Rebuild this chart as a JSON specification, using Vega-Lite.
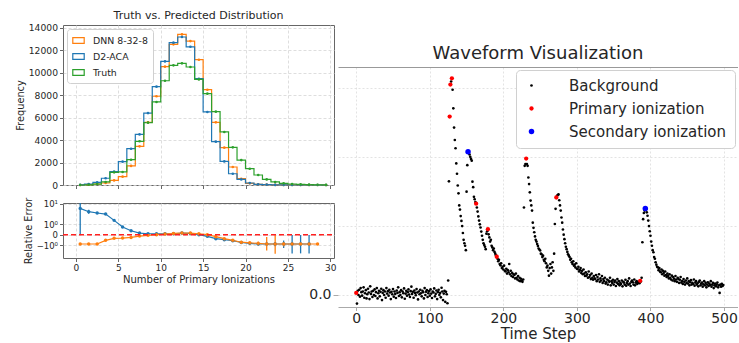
{
  "$schema": "https://vega.github.io/schema/vega-lite/v6.json",
  "padding": {"left": 14, "top": 9, "right": 0, "bottom": 0},
  "background": "white",
  "spacing": -100,
  "config": {
    "font": "DejaVu Sans",
    "view": {"stroke": null},
    "axis": {"labelFont": "DejaVu Sans", "titleFont": "DejaVu Sans", "titleFontWeight": "normal", "labelColor": "#262626", "titleColor": "#262626", "domainColor": "#666", "tickColor": "#666", "gridColor": "#d6d6d6", "gridDash": [3, 2], "gridWidth": 0.8, "labelOverlap": false},
    "legend": {"labelFont": "DejaVu Sans", "labelColor": "#262626"},
    "title": {"font": "DejaVu Sans", "fontWeight": "normal", "color": "#262626"}
  },
  "resolve": {"scale": {"color": "independent", "size": "independent"}, "legend": {"color": "independent", "size": "independent"}},
  "datasets": {
    "hist": [
      {"s":"DNN 8-32-8","c":0.5,"n":0},{"s":"DNN 8-32-8","c":1.5,"n":30},{"s":"DNN 8-32-8","c":2.5,"n":90},{"s":"DNN 8-32-8","c":3.5,"n":180},{"s":"DNN 8-32-8","c":4.5,"n":410},{"s":"DNN 8-32-8","c":5.5,"n":740},{"s":"DNN 8-32-8","c":6.5,"n":1700},{"s":"DNN 8-32-8","c":7.5,"n":3440},{"s":"DNN 8-32-8","c":8.5,"n":5580},{"s":"DNN 8-32-8","c":9.5,"n":7900},{"s":"DNN 8-32-8","c":10.5,"n":10530},{"s":"DNN 8-32-8","c":11.5,"n":12520},{"s":"DNN 8-32-8","c":12.5,"n":13400},{"s":"DNN 8-32-8","c":13.5,"n":12810},{"s":"DNN 8-32-8","c":14.5,"n":11150},{"s":"DNN 8-32-8","c":15.5,"n":8480},{"s":"DNN 8-32-8","c":16.5,"n":5580},{"s":"DNN 8-32-8","c":17.5,"n":3320},{"s":"DNN 8-32-8","c":18.5,"n":1600},{"s":"DNN 8-32-8","c":19.5,"n":560},{"s":"DNN 8-32-8","c":20.5,"n":150},{"s":"DNN 8-32-8","c":21.5,"n":60},{"s":"DNN 8-32-8","c":22.5,"n":30},{"s":"DNN 8-32-8","c":23.5,"n":15},{"s":"DNN 8-32-8","c":24.5,"n":10},{"s":"DNN 8-32-8","c":25.5,"n":5},{"s":"DNN 8-32-8","c":26.5,"n":3},{"s":"DNN 8-32-8","c":27.5,"n":2},{"s":"DNN 8-32-8","c":28.5,"n":1},{"s":"DNN 8-32-8","c":29.5,"n":0},
      {"s":"D2-ACA","c":0.5,"n":20},{"s":"D2-ACA","c":1.5,"n":90},{"s":"D2-ACA","c":2.5,"n":240},{"s":"D2-ACA","c":3.5,"n":600},{"s":"D2-ACA","c":4.5,"n":1200},{"s":"D2-ACA","c":5.5,"n":2080},{"s":"D2-ACA","c":6.5,"n":3230},{"s":"D2-ACA","c":7.5,"n":4500},{"s":"D2-ACA","c":8.5,"n":6400},{"s":"D2-ACA","c":9.5,"n":8750},{"s":"D2-ACA","c":10.5,"n":11000},{"s":"D2-ACA","c":11.5,"n":12670},{"s":"D2-ACA","c":12.5,"n":13170},{"s":"D2-ACA","c":13.5,"n":12300},{"s":"D2-ACA","c":14.5,"n":9460},{"s":"D2-ACA","c":15.5,"n":6500},{"s":"D2-ACA","c":16.5,"n":3860},{"s":"D2-ACA","c":17.5,"n":2100},{"s":"D2-ACA","c":18.5,"n":1000},{"s":"D2-ACA","c":19.5,"n":500},{"s":"D2-ACA","c":20.5,"n":180},{"s":"D2-ACA","c":21.5,"n":60},{"s":"D2-ACA","c":22.5,"n":30},{"s":"D2-ACA","c":23.5,"n":10},{"s":"D2-ACA","c":24.5,"n":5},{"s":"D2-ACA","c":25.5,"n":2},{"s":"D2-ACA","c":26.5,"n":1},{"s":"D2-ACA","c":27.5,"n":0},{"s":"D2-ACA","c":28.5,"n":0},{"s":"D2-ACA","c":29.5,"n":0},
      {"s":"Truth","c":0.5,"n":0},{"s":"Truth","c":1.5,"n":20},{"s":"Truth","c":2.5,"n":80},{"s":"Truth","c":3.5,"n":270},{"s":"Truth","c":4.5,"n":1130},{"s":"Truth","c":5.5,"n":1160},{"s":"Truth","c":6.5,"n":2250},{"s":"Truth","c":7.5,"n":3890},{"s":"Truth","c":8.5,"n":5550},{"s":"Truth","c":9.5,"n":7390},{"s":"Truth","c":10.5,"n":9280},{"s":"Truth","c":11.5,"n":10650},{"s":"Truth","c":12.5,"n":10830},{"s":"Truth","c":13.5,"n":10500},{"s":"Truth","c":14.5,"n":9400},{"s":"Truth","c":15.5,"n":8130},{"s":"Truth","c":16.5,"n":6530},{"s":"Truth","c":17.5,"n":4720},{"s":"Truth","c":18.5,"n":3350},{"s":"Truth","c":19.5,"n":2220},{"s":"Truth","c":20.5,"n":1450},{"s":"Truth","c":21.5,"n":890},{"s":"Truth","c":22.5,"n":500},{"s":"Truth","c":23.5,"n":270},{"s":"Truth","c":24.5,"n":150},{"s":"Truth","c":25.5,"n":90},{"s":"Truth","c":26.5,"n":50},{"s":"Truth","c":27.5,"n":30},{"s":"Truth","c":28.5,"n":20},{"s":"Truth","c":29.5,"n":10}
    ],
    "rel": [
      {"s":"D2-ACA","c":0.5,"e":6.33},{"s":"D2-ACA","c":1.5,"e":4.52},{"s":"D2-ACA","c":2.5,"e":3.94},{"s":"D2-ACA","c":3.5,"e":3.54},{"s":"D2-ACA","c":4.5,"e":1.72},{"s":"D2-ACA","c":5.5,"e":0.65},{"s":"D2-ACA","c":6.5,"e":0.28},{"s":"D2-ACA","c":7.5,"e":0.105},{"s":"D2-ACA","c":8.5,"e":0.06},{"s":"D2-ACA","c":9.5,"e":0.06},{"s":"D2-ACA","c":10.5,"e":0.06},{"s":"D2-ACA","c":11.5,"e":0.06},{"s":"D2-ACA","c":12.5,"e":0.105},{"s":"D2-ACA","c":13.5,"e":0.08},{"s":"D2-ACA","c":14.5,"e":0},{"s":"D2-ACA","c":15.5,"e":-0.105},{"s":"D2-ACA","c":16.5,"e":-0.28},{"s":"D2-ACA","c":17.5,"e":-0.37},{"s":"D2-ACA","c":18.5,"e":-0.47},{"s":"D2-ACA","c":19.5,"e":-0.65},{"s":"D2-ACA","c":20.5,"e":-0.77},{"s":"D2-ACA","c":21.5,"e":-0.85},{"s":"D2-ACA","c":22.5,"e":-0.85},{"s":"D2-ACA","c":23.5,"e":-0.85},{"s":"D2-ACA","c":24.5,"e":-0.85},{"s":"D2-ACA","c":25.5,"e":-0.85},{"s":"D2-ACA","c":26.5,"e":-0.85},{"s":"D2-ACA","c":27.5,"e":-0.85},
      {"s":"DNN 8-32-8","c":0.5,"e":-0.85},{"s":"DNN 8-32-8","c":1.5,"e":-0.85},{"s":"DNN 8-32-8","c":2.5,"e":-0.85},{"s":"DNN 8-32-8","c":3.5,"e":-0.43},{"s":"DNN 8-32-8","c":4.5,"e":-0.25},{"s":"DNN 8-32-8","c":5.5,"e":-0.23},{"s":"DNN 8-32-8","c":6.5,"e":-0.18},{"s":"DNN 8-32-8","c":7.5,"e":-0.083},{"s":"DNN 8-32-8","c":8.5,"e":-0.04},{"s":"DNN 8-32-8","c":9.5,"e":0},{"s":"DNN 8-32-8","c":10.5,"e":0.04},{"s":"DNN 8-32-8","c":11.5,"e":0.08},{"s":"DNN 8-32-8","c":12.5,"e":0.105},{"s":"DNN 8-32-8","c":13.5,"e":0.105},{"s":"DNN 8-32-8","c":14.5,"e":0.06},{"s":"DNN 8-32-8","c":15.5,"e":0},{"s":"DNN 8-32-8","c":16.5,"e":-0.127},{"s":"DNN 8-32-8","c":17.5,"e":-0.28},{"s":"DNN 8-32-8","c":18.5,"e":-0.43},{"s":"DNN 8-32-8","c":19.5,"e":-0.63},{"s":"DNN 8-32-8","c":20.5,"e":-0.7},{"s":"DNN 8-32-8","c":21.5,"e":-0.77},{"s":"DNN 8-32-8","c":22.5,"e":-0.85},{"s":"DNN 8-32-8","c":23.5,"e":-0.85},{"s":"DNN 8-32-8","c":24.5,"e":-0.85},{"s":"DNN 8-32-8","c":25.5,"e":-0.85},{"s":"DNN 8-32-8","c":26.5,"e":-0.85},{"s":"DNN 8-32-8","c":27.5,"e":-0.85},{"s":"DNN 8-32-8","c":28.5,"e":-0.85}
    ],
    "ebar": [
      {"s":"D2-ACA","c":0.5,"e":0,"e2":11},{"s":"D2-ACA","c":1.5,"e":3.67,"e2":5.54},{"s":"D2-ACA","c":2.5,"e":3.6,"e2":4.3},{"s":"D2-ACA","c":3.5,"e":3.2,"e2":3.9},{"s":"D2-ACA","c":23.5,"e":-1.2,"e2":-0.6},{"s":"D2-ACA","c":24.5,"e":-1.5,"e2":-0.45},{"s":"D2-ACA","c":25.5,"e":-2.85,"e2":-0.02},{"s":"D2-ACA","c":26.5,"e":-2.85,"e2":-0.02},{"s":"D2-ACA","c":27.5,"e":-2.85,"e2":-0.02},
      {"s":"DNN 8-32-8","c":21.5,"e":-1.1,"e2":-0.55},{"s":"DNN 8-32-8","c":22.5,"e":-2.02,"e2":-0.15},{"s":"DNN 8-32-8","c":23.5,"e":-2.96,"e2":-0.04},{"s":"DNN 8-32-8","c":24.5,"e":-1.2,"e2":-0.6}
    ],
    "zero": [
      {"c": -1.53, "e": 0}, {"c": 30.44, "e": 0}
    ],
    "wave": [
      {"t":1,"v":-0.25,"k":"B"},{"t":2,"v":0.12,"k":"B"},{"t":3,"v":0.0,"k":"B"},{"t":4,"v":0.15,"k":"B"},{"t":5,"v":-0.05,"k":"B"},{"t":6,"v":0.2,"k":"B"},{"t":7,"v":0.08,"k":"B"},{"t":8,"v":-0.02,"k":"B"},{"t":9,"v":0.1,"k":"B"},{"t":10,"v":0.22,"k":"B"},
      {"t":11,"v":-0.08,"k":"B"},{"t":12,"v":0.05,"k":"B"},{"t":13,"v":0.14,"k":"B"},{"t":14,"v":-0.1,"k":"B"},{"t":15,"v":0.02,"k":"B"},{"t":16,"v":0.18,"k":"B"},{"t":17,"v":0.07,"k":"B"},{"t":18,"v":-0.12,"k":"B"},{"t":19,"v":0.25,"k":"B"},{"t":20,"v":0.03,"k":"B"},
      {"t":21,"v":0.1,"k":"B"},{"t":22,"v":-0.06,"k":"B"},{"t":23,"v":0.12,"k":"B"},{"t":24,"v":0.0,"k":"B"},{"t":25,"v":0.16,"k":"B"},{"t":26,"v":-0.03,"k":"B"},{"t":27,"v":0.08,"k":"B"},{"t":28,"v":0.2,"k":"B"},{"t":29,"v":-0.1,"k":"B"},{"t":30,"v":0.05,"k":"B"},
      {"t":31,"v":0.12,"k":"B"},{"t":32,"v":-0.04,"k":"B"},{"t":33,"v":0.09,"k":"B"},{"t":34,"v":0.18,"k":"B"},{"t":35,"v":-0.15,"k":"B"},{"t":36,"v":0.06,"k":"B"},{"t":37,"v":0.14,"k":"B"},{"t":38,"v":0.0,"k":"B"},{"t":39,"v":0.1,"k":"B"},{"t":40,"v":-0.08,"k":"B"},
      {"t":41,"v":0.2,"k":"B"},{"t":42,"v":0.04,"k":"B"},{"t":43,"v":0.11,"k":"B"},{"t":44,"v":-0.02,"k":"B"},{"t":45,"v":0.15,"k":"B"},{"t":46,"v":0.07,"k":"B"},{"t":47,"v":-0.12,"k":"B"},{"t":48,"v":0.09,"k":"B"},{"t":49,"v":0.02,"k":"B"},{"t":50,"v":0.17,"k":"B"},
      {"t":51,"v":-0.05,"k":"B"},{"t":52,"v":0.1,"k":"B"},{"t":53,"v":0.03,"k":"B"},{"t":54,"v":-0.09,"k":"B"},{"t":55,"v":0.13,"k":"B"},{"t":56,"v":0.06,"k":"B"},{"t":57,"v":0.22,"k":"B"},{"t":58,"v":-0.03,"k":"B"},{"t":59,"v":0.08,"k":"B"},{"t":60,"v":0.0,"k":"B"},
      {"t":61,"v":0.14,"k":"B"},{"t":62,"v":-0.07,"k":"B"},{"t":63,"v":0.1,"k":"B"},{"t":64,"v":0.05,"k":"B"},{"t":65,"v":0.19,"k":"B"},{"t":66,"v":-0.11,"k":"B"},{"t":67,"v":0.04,"k":"B"},{"t":68,"v":0.12,"k":"B"},{"t":69,"v":-0.02,"k":"B"},{"t":70,"v":0.08,"k":"B"},
      {"t":71,"v":0.16,"k":"B"},{"t":72,"v":0.01,"k":"B"},{"t":73,"v":-0.06,"k":"B"},{"t":74,"v":0.11,"k":"B"},{"t":75,"v":0.24,"k":"B"},{"t":76,"v":0.03,"k":"B"},{"t":77,"v":0.09,"k":"B"},{"t":78,"v":-0.08,"k":"B"},{"t":79,"v":0.13,"k":"B"},{"t":80,"v":0.06,"k":"B"},
      {"t":81,"v":-0.01,"k":"B"},{"t":82,"v":0.17,"k":"B"},{"t":83,"v":0.07,"k":"B"},{"t":84,"v":-0.13,"k":"B"},{"t":85,"v":0.1,"k":"B"},{"t":86,"v":0.02,"k":"B"},{"t":87,"v":0.15,"k":"B"},{"t":88,"v":0.05,"k":"B"},{"t":89,"v":-0.04,"k":"B"},{"t":90,"v":0.12,"k":"B"},
      {"t":91,"v":0.08,"k":"B"},{"t":92,"v":-0.1,"k":"B"},{"t":93,"v":0.2,"k":"B"},{"t":94,"v":0.0,"k":"B"},{"t":95,"v":0.09,"k":"B"},{"t":96,"v":0.14,"k":"B"},{"t":97,"v":-0.06,"k":"B"},{"t":98,"v":0.05,"k":"B"},{"t":99,"v":0.11,"k":"B"},{"t":100,"v":-0.02,"k":"B"},
      {"t":101,"v":0.16,"k":"B"},{"t":102,"v":0.04,"k":"B"},{"t":103,"v":-0.09,"k":"B"},{"t":104,"v":0.1,"k":"B"},{"t":105,"v":0.07,"k":"B"},{"t":106,"v":0.19,"k":"B"},{"t":107,"v":-0.04,"k":"B"},{"t":108,"v":0.03,"k":"B"},{"t":109,"v":0.13,"k":"B"},{"t":110,"v":-0.12,"k":"B"},
      {"t":111,"v":0.08,"k":"B"},{"t":112,"v":0.15,"k":"B"},{"t":113,"v":0.0,"k":"B"},{"t":114,"v":0.06,"k":"B"},{"t":115,"v":-0.07,"k":"B"},{"t":116,"v":0.21,"k":"B"},{"t":117,"v":0.1,"k":"B"},{"t":118,"v":-0.15,"k":"B"},{"t":119,"v":0.04,"k":"B"},{"t":120,"v":0.12,"k":"B"},
      {"t":121,"v":-0.2,"k":"B"},{"t":122,"v":0.09,"k":"B"},{"t":123,"v":0.02,"k":"B"},{"t":124,"v":-0.24,"k":"B"},{"t":125,"v":0.42,"k":"B"},{"t":126,"v":3.3,"k":"B"},{"t":129,"v":6.2,"k":"B"},
      {"t":131,"v":5.96,"k":"B"},{"t":132,"v":5.42,"k":"B"},{"t":133,"v":4.86,"k":"B"},{"t":134,"v":4.5,"k":"B"},{"t":135,"v":4.26,"k":"B"},{"t":136,"v":3.82,"k":"B"},{"t":137,"v":3.52,"k":"B"},{"t":138,"v":3.18,"k":"B"},{"t":139,"v":2.95,"k":"B"},{"t":140,"v":2.6,"k":"B"},
      {"t":141,"v":2.48,"k":"B"},{"t":142,"v":2.29,"k":"B"},{"t":143,"v":2.15,"k":"B"},{"t":144,"v":2.0,"k":"B"},{"t":145,"v":1.8,"k":"B"},{"t":146,"v":1.6,"k":"B"},{"t":147,"v":1.5,"k":"B"},{"t":148,"v":1.43,"k":"B"},{"t":149,"v":1.3,"k":"B"},{"t":150,"v":3.0,"k":"B"},
      {"t":151,"v":3.77,"k":"B"},{"t":153,"v":4.12,"k":"B"},{"t":154,"v":4.08,"k":"B"},{"t":155,"v":4.01,"k":"B"},{"t":156,"v":3.95,"k":"B"},{"t":157,"v":3.9,"k":"B"},{"t":158,"v":3.29,"k":"B"},{"t":159,"v":3.13,"k":"B"},{"t":160,"v":2.85,"k":"B"},
      {"t":161,"v":2.78,"k":"B"},{"t":162,"v":2.7,"k":"B"},{"t":164,"v":2.54,"k":"B"},{"t":165,"v":2.42,"k":"B"},{"t":166,"v":2.28,"k":"B"},{"t":167,"v":2.16,"k":"B"},{"t":168,"v":2.05,"k":"B"},{"t":169,"v":1.96,"k":"B"},{"t":170,"v":1.84,"k":"B"},
      {"t":171,"v":1.72,"k":"B"},{"t":172,"v":1.6,"k":"B"},{"t":173,"v":1.5,"k":"B"},{"t":174,"v":1.45,"k":"B"},{"t":175,"v":1.4,"k":"B"},{"t":176,"v":1.33,"k":"B"},{"t":177,"v":1.78,"k":"B"},{"t":178,"v":1.85,"k":"B"},{"t":180,"v":1.76,"k":"B"},
      {"t":181,"v":1.67,"k":"B"},{"t":182,"v":1.55,"k":"B"},{"t":183,"v":1.6,"k":"B"},{"t":184,"v":1.43,"k":"B"},{"t":185,"v":1.38,"k":"B"},{"t":186,"v":1.3,"k":"B"},{"t":187,"v":1.35,"k":"B"},{"t":188,"v":1.25,"k":"B"},{"t":189,"v":1.2,"k":"B"},{"t":190,"v":1.15,"k":"B"},
      {"t":192,"v":1.05,"k":"B"},{"t":193,"v":0.98,"k":"B"},{"t":194,"v":1.02,"k":"B"},{"t":195,"v":0.9,"k":"B"},{"t":196,"v":0.86,"k":"B"},{"t":197,"v":0.92,"k":"B"},{"t":198,"v":0.78,"k":"B"},{"t":199,"v":0.82,"k":"B"},{"t":200,"v":0.74,"k":"B"},
      {"t":201,"v":0.85,"k":"B"},{"t":202,"v":0.7,"k":"B"},{"t":203,"v":0.68,"k":"B"},{"t":204,"v":0.76,"k":"B"},{"t":205,"v":0.62,"k":"B"},{"t":206,"v":0.72,"k":"B"},{"t":207,"v":0.66,"k":"B"},{"t":208,"v":0.9,"k":"B"},{"t":209,"v":0.6,"k":"B"},{"t":210,"v":0.7,"k":"B"},
      {"t":211,"v":0.55,"k":"B"},{"t":212,"v":0.64,"k":"B"},{"t":213,"v":0.52,"k":"B"},{"t":214,"v":0.6,"k":"B"},{"t":215,"v":0.58,"k":"B"},{"t":216,"v":0.48,"k":"B"},{"t":217,"v":0.62,"k":"B"},{"t":218,"v":0.5,"k":"B"},{"t":219,"v":0.45,"k":"B"},{"t":220,"v":0.55,"k":"B"},
      {"t":221,"v":0.42,"k":"B"},{"t":222,"v":0.5,"k":"B"},{"t":223,"v":0.4,"k":"B"},{"t":224,"v":0.47,"k":"B"},{"t":225,"v":0.41,"k":"B"},{"t":226,"v":0.38,"k":"B"},{"t":227,"v":0.45,"k":"B"},{"t":228,"v":2.54,"k":"B"},{"t":229,"v":3.75,"k":"B"},{"t":230,"v":3.8,"k":"B"},
      {"t":232,"v":3.8,"k":"B"},{"t":233,"v":3.75,"k":"B"},{"t":234,"v":3.41,"k":"B"},{"t":235,"v":3.22,"k":"B"},{"t":236,"v":2.98,"k":"B"},{"t":237,"v":2.74,"k":"B"},{"t":238,"v":2.6,"k":"B"},{"t":239,"v":2.45,"k":"B"},{"t":240,"v":2.1,"k":"B"},
      {"t":241,"v":1.95,"k":"B"},{"t":242,"v":1.82,"k":"B"},{"t":243,"v":1.7,"k":"B"},{"t":244,"v":1.6,"k":"B"},{"t":245,"v":1.55,"k":"B"},{"t":246,"v":1.48,"k":"B"},{"t":247,"v":1.42,"k":"B"},{"t":248,"v":1.35,"k":"B"},{"t":249,"v":1.32,"k":"B"},{"t":250,"v":1.29,"k":"B"},
      {"t":251,"v":1.2,"k":"B"},{"t":252,"v":1.18,"k":"B"},{"t":253,"v":1.1,"k":"B"},{"t":254,"v":1.14,"k":"B"},{"t":255,"v":1.02,"k":"B"},{"t":256,"v":0.98,"k":"B"},{"t":257,"v":1.05,"k":"B"},{"t":258,"v":0.92,"k":"B"},{"t":259,"v":0.8,"k":"B"},{"t":260,"v":0.85,"k":"B"},
      {"t":261,"v":0.7,"k":"B"},{"t":262,"v":0.56,"k":"B"},{"t":263,"v":0.78,"k":"B"},{"t":264,"v":0.9,"k":"B"},{"t":265,"v":0.62,"k":"B"},{"t":266,"v":0.8,"k":"B"},{"t":267,"v":0.95,"k":"B"},{"t":268,"v":0.7,"k":"B"},{"t":269,"v":1.2,"k":"B"},{"t":270,"v":2.06,"k":"B"},
      {"t":271,"v":2.5,"k":"B"},{"t":273,"v":2.88,"k":"B"},{"t":274,"v":2.9,"k":"B"},{"t":275,"v":2.92,"k":"B"},{"t":276,"v":2.75,"k":"B"},{"t":277,"v":2.6,"k":"B"},{"t":278,"v":2.45,"k":"B"},{"t":279,"v":2.25,"k":"B"},{"t":280,"v":2.1,"k":"B"},
      {"t":281,"v":1.9,"k":"B"},{"t":282,"v":1.75,"k":"B"},{"t":283,"v":1.62,"k":"B"},{"t":284,"v":1.5,"k":"B"},{"t":285,"v":1.4,"k":"B"},{"t":286,"v":1.33,"k":"B"},{"t":287,"v":1.25,"k":"B"},{"t":288,"v":1.18,"k":"B"},{"t":289,"v":1.14,"k":"B"},{"t":290,"v":1.1,"k":"B"},
      {"t":291,"v":1.02,"k":"B"},{"t":292,"v":1.05,"k":"B"},{"t":293,"v":0.95,"k":"B"},{"t":294,"v":0.9,"k":"B"},{"t":295,"v":0.98,"k":"B"},{"t":296,"v":0.85,"k":"B"},{"t":297,"v":0.88,"k":"B"},{"t":298,"v":0.8,"k":"B"},{"t":299,"v":0.92,"k":"B"},{"t":300,"v":0.76,"k":"B"},
      {"t":301,"v":0.75,"k":"B"},{"t":302,"v":0.82,"k":"B"},{"t":303,"v":0.68,"k":"B"},{"t":304,"v":0.72,"k":"B"},{"t":305,"v":0.78,"k":"B"},{"t":306,"v":0.64,"k":"B"},{"t":307,"v":0.7,"k":"B"},{"t":308,"v":0.6,"k":"B"},{"t":309,"v":0.74,"k":"B"},{"t":310,"v":0.62,"k":"B"},
      {"t":311,"v":0.55,"k":"B"},{"t":312,"v":0.66,"k":"B"},{"t":313,"v":0.56,"k":"B"},{"t":314,"v":0.6,"k":"B"},{"t":315,"v":0.5,"k":"B"},{"t":316,"v":0.68,"k":"B"},{"t":317,"v":0.52,"k":"B"},{"t":318,"v":0.58,"k":"B"},{"t":319,"v":0.46,"k":"B"},{"t":320,"v":0.62,"k":"B"},
      {"t":321,"v":0.5,"k":"B"},{"t":322,"v":0.44,"k":"B"},{"t":323,"v":0.55,"k":"B"},{"t":324,"v":0.48,"k":"B"},{"t":325,"v":0.46,"k":"B"},{"t":326,"v":0.58,"k":"B"},{"t":327,"v":0.4,"k":"B"},{"t":328,"v":0.52,"k":"B"},{"t":329,"v":0.45,"k":"B"},{"t":330,"v":0.6,"k":"B"},
      {"t":331,"v":0.38,"k":"B"},{"t":332,"v":0.48,"k":"B"},{"t":333,"v":0.42,"k":"B"},{"t":334,"v":0.55,"k":"B"},{"t":335,"v":0.35,"k":"B"},{"t":336,"v":0.46,"k":"B"},{"t":337,"v":0.4,"k":"B"},{"t":338,"v":0.5,"k":"B"},{"t":339,"v":0.33,"k":"B"},{"t":340,"v":0.37,"k":"B"},
      {"t":341,"v":0.45,"k":"B"},{"t":342,"v":0.3,"k":"B"},{"t":343,"v":0.42,"k":"B"},{"t":344,"v":0.38,"k":"B"},{"t":345,"v":0.5,"k":"B"},{"t":346,"v":0.28,"k":"B"},{"t":347,"v":0.4,"k":"B"},{"t":348,"v":0.35,"k":"B"},{"t":349,"v":0.44,"k":"B"},{"t":350,"v":0.3,"k":"B"},
      {"t":351,"v":0.38,"k":"B"},{"t":352,"v":0.42,"k":"B"},{"t":353,"v":0.26,"k":"B"},{"t":354,"v":0.36,"k":"B"},{"t":355,"v":0.46,"k":"B"},{"t":356,"v":0.32,"k":"B"},{"t":357,"v":0.4,"k":"B"},{"t":358,"v":0.28,"k":"B"},{"t":359,"v":0.35,"k":"B"},{"t":360,"v":0.32,"k":"B"},
      {"t":361,"v":0.42,"k":"B"},{"t":362,"v":0.25,"k":"B"},{"t":363,"v":0.38,"k":"B"},{"t":364,"v":0.36,"k":"B"},{"t":365,"v":0.3,"k":"B"},{"t":366,"v":0.44,"k":"B"},{"t":367,"v":0.27,"k":"B"},{"t":368,"v":0.35,"k":"B"},{"t":369,"v":0.4,"k":"B"},{"t":370,"v":0.3,"k":"B"},
      {"t":371,"v":0.48,"k":"B"},{"t":372,"v":0.33,"k":"B"},{"t":373,"v":0.26,"k":"B"},{"t":374,"v":0.38,"k":"B"},{"t":375,"v":0.42,"k":"B"},{"t":376,"v":0.37,"k":"B"},{"t":377,"v":0.3,"k":"B"},{"t":378,"v":0.45,"k":"B"},{"t":379,"v":0.28,"k":"B"},{"t":380,"v":0.36,"k":"B"},
      {"t":381,"v":0.4,"k":"B"},{"t":382,"v":0.32,"k":"B"},{"t":383,"v":0.38,"k":"B"},{"t":384,"v":0.36,"k":"B"},{"t":385,"v":0.34,"k":"B"},{"t":387,"v":0.39,"k":"B"},{"t":388,"v":0.5,"k":"B"},{"t":389,"v":1.53,"k":"B"},{"t":390,"v":2.2,"k":"B"},
      {"t":391,"v":2.38,"k":"B"},{"t":392,"v":2.45,"k":"B"},{"t":394,"v":2.48,"k":"B"},{"t":395,"v":2.4,"k":"B"},{"t":396,"v":2.3,"k":"B"},{"t":397,"v":2.16,"k":"B"},{"t":398,"v":2.0,"k":"B"},{"t":399,"v":1.85,"k":"B"},{"t":400,"v":1.72,"k":"B"},
      {"t":401,"v":1.55,"k":"B"},{"t":402,"v":1.43,"k":"B"},{"t":403,"v":1.3,"k":"B"},{"t":404,"v":1.24,"k":"B"},{"t":405,"v":1.1,"k":"B"},{"t":406,"v":1.05,"k":"B"},{"t":407,"v":0.95,"k":"B"},{"t":408,"v":0.88,"k":"B"},{"t":409,"v":0.82,"k":"B"},{"t":410,"v":0.8,"k":"B"},
      {"t":411,"v":0.72,"k":"B"},{"t":412,"v":0.78,"k":"B"},{"t":413,"v":0.68,"k":"B"},{"t":414,"v":0.66,"k":"B"},{"t":415,"v":0.74,"k":"B"},{"t":416,"v":0.6,"k":"B"},{"t":417,"v":0.7,"k":"B"},{"t":418,"v":0.64,"k":"B"},{"t":419,"v":0.56,"k":"B"},{"t":420,"v":0.68,"k":"B"},
      {"t":421,"v":0.58,"k":"B"},{"t":422,"v":0.52,"k":"B"},{"t":423,"v":0.62,"k":"B"},{"t":424,"v":0.55,"k":"B"},{"t":425,"v":0.48,"k":"B"},{"t":426,"v":0.6,"k":"B"},{"t":427,"v":0.5,"k":"B"},{"t":428,"v":0.45,"k":"B"},{"t":429,"v":0.56,"k":"B"},{"t":430,"v":0.42,"k":"B"},
      {"t":431,"v":0.52,"k":"B"},{"t":432,"v":0.47,"k":"B"},{"t":433,"v":0.4,"k":"B"},{"t":434,"v":0.55,"k":"B"},{"t":435,"v":0.45,"k":"B"},{"t":436,"v":0.38,"k":"B"},{"t":437,"v":0.5,"k":"B"},{"t":438,"v":0.46,"k":"B"},{"t":439,"v":0.35,"k":"B"},{"t":440,"v":0.44,"k":"B"},
      {"t":441,"v":0.52,"k":"B"},{"t":442,"v":0.36,"k":"B"},{"t":443,"v":0.4,"k":"B"},{"t":444,"v":0.32,"k":"B"},{"t":445,"v":0.46,"k":"B"},{"t":446,"v":0.38,"k":"B"},{"t":447,"v":0.3,"k":"B"},{"t":448,"v":0.42,"k":"B"},{"t":449,"v":0.35,"k":"B"},{"t":450,"v":0.48,"k":"B"},
      {"t":451,"v":0.33,"k":"B"},{"t":452,"v":0.4,"k":"B"},{"t":453,"v":0.28,"k":"B"},{"t":454,"v":0.37,"k":"B"},{"t":455,"v":0.43,"k":"B"},{"t":456,"v":0.3,"k":"B"},{"t":457,"v":0.35,"k":"B"},{"t":458,"v":0.32,"k":"B"},{"t":459,"v":0.45,"k":"B"},{"t":460,"v":0.27,"k":"B"},
      {"t":461,"v":0.36,"k":"B"},{"t":462,"v":0.4,"k":"B"},{"t":463,"v":0.3,"k":"B"},{"t":464,"v":0.34,"k":"B"},{"t":465,"v":0.25,"k":"B"},{"t":466,"v":0.38,"k":"B"},{"t":467,"v":0.42,"k":"B"},{"t":468,"v":0.28,"k":"B"},{"t":469,"v":0.33,"k":"B"},{"t":470,"v":0.36,"k":"B"},
      {"t":471,"v":0.24,"k":"B"},{"t":472,"v":0.31,"k":"B"},{"t":473,"v":0.4,"k":"B"},{"t":474,"v":0.28,"k":"B"},{"t":475,"v":0.35,"k":"B"},{"t":476,"v":0.22,"k":"B"},{"t":477,"v":0.3,"k":"B"},{"t":478,"v":0.37,"k":"B"},{"t":479,"v":0.26,"k":"B"},{"t":480,"v":0.33,"k":"B"},
      {"t":481,"v":0.29,"k":"B"},{"t":482,"v":0.4,"k":"B"},{"t":483,"v":0.24,"k":"B"},{"t":484,"v":0.3,"k":"B"},{"t":485,"v":0.35,"k":"B"},{"t":486,"v":0.2,"k":"B"},{"t":487,"v":0.28,"k":"B"},{"t":488,"v":0.33,"k":"B"},{"t":489,"v":0.25,"k":"B"},{"t":490,"v":0.3,"k":"B"},
      {"t":491,"v":0.36,"k":"B"},{"t":492,"v":0.22,"k":"B"},{"t":493,"v":0.28,"k":"B"},{"t":494,"v":0.06,"k":"B"},{"t":495,"v":0.3,"k":"B"},{"t":496,"v":0.24,"k":"B"},{"t":497,"v":0.32,"k":"B"},{"t":498,"v":0.26,"k":"B"},{"t":499,"v":0.29,"k":"B"},
      {"t":0,"v":0.06,"k":"P"},{"t":127,"v":5.18,"k":"P"},{"t":128,"v":6.11,"k":"P"},{"t":130,"v":6.29,"k":"P"},{"t":163,"v":2.65,"k":"P"},{"t":179,"v":1.91,"k":"P"},{"t":191,"v":1.11,"k":"P"},{"t":231,"v":3.96,"k":"P"},{"t":272,"v":2.83,"k":"P"},{"t":386,"v":0.41,"k":"P"},
      {"t":152,"v":4.16,"k":"S"},{"t":393,"v":2.51,"k":"S"}
    ]
  },
  "hconcat": [
    {
      "spacing": 5,
      "vconcat": [
        {
          "width": 271,
          "height": 160,
          "view": {"stroke": "#666", "fill": "white"},
          "title": {"text": "Truth vs. Predicted Distribution", "fontSize": 11, "offset": 3},
          "data": {"name": "hist"},
          "encoding": {
            "x": {"field": "c", "type": "quantitative", "scale": {"domain": [-1.53, 30.44], "nice": false, "zero": false},
                  "axis": {"values": [0, 5, 10, 15, 20, 25, 30], "labels": false, "title": null, "tickSize": 3.5, "domain": false}},
            "y": {"field": "n", "type": "quantitative", "scale": {"domain": [0, 14240], "nice": false},
                  "axis": {"values": [0, 2000, 4000, 6000, 8000, 10000, 12000, 14000], "format": "d", "labelOverlap": false, "title": "Frequency", "titleFontSize": 9.8, "labelFontSize": 9.2, "tickSize": 3.5, "labelPadding": 2, "titlePadding": 3, "domain": false}}
          },
          "layer": [
            {
              "mark": {"type": "line", "interpolate": "step", "strokeWidth": 1.2},
              "encoding": {
                "color": {"field": "s", "type": "nominal", "scale": {"domain": ["DNN 8-32-8", "D2-ACA", "Truth"], "range": ["#ff7f0e", "#1f77b4", "#2ca02c"]},
                          "legend": {"title": null, "orient": "top-left", "offset": 4, "fillColor": "white", "strokeColor": "#d0d0d0", "cornerRadius": 3, "padding": 5, "labelFontSize": 9.4, "rowPadding": 4, "symbolType": "M-1,-0.5H1V0.5H-1Z", "symbolSize": 130, "symbolStrokeWidth": 1.2, "symbolFillColor": "white", "labelOffset": 8}}
              }
            },
            {
              "mark": {"type": "point", "filled": true, "size": 7, "opacity": 1},
              "encoding": {
                "color": {"field": "s", "type": "nominal", "scale": {"domain": ["DNN 8-32-8", "D2-ACA", "Truth"], "range": ["#ff7f0e", "#1f77b4", "#2ca02c"]}, "legend": null}
              }
            }
          ],
          "resolve": {"scale": {"color": "independent"}}
        },
        {
          "width": 271,
          "height": 55,
          "view": {"stroke": "#666", "fill": "white"},
          "encoding": {
            "x": {"field": "c", "type": "quantitative", "scale": {"domain": [-1.53, 30.44], "nice": false, "zero": false},
                  "axis": {"values": [0, 5, 10, 15, 20, 25, 30], "labelOverlap": false, "title": "Number of Primary Ionizations", "titleFontSize": 10, "labelFontSize": 9, "tickSize": 3.5, "labelPadding": 2, "titlePadding": 2, "domain": false}},
            "y": {"field": "e", "type": "quantitative", "scale": {"type": "symlog", "constant": 0.65, "domain": [-4.66, 10.69], "nice": false, "zero": false},
                  "axis": {"values": [-1, 0, 1, 10], "labelOverlap": false, "labelExpr": "datum.value == 10 ? '10¹' : datum.value == 1 ? '10⁰' : datum.value == 0 ? '0' : '−10⁰'", "title": "Relative Error", "titleFontSize": 9.8, "labelFontSize": 8.5, "tickSize": 3.5, "labelPadding": 2, "titlePadding": 3, "domain": false}},
            "color": {"field": "s", "type": "nominal", "scale": {"domain": ["DNN 8-32-8", "D2-ACA"], "range": ["#ff7f0e", "#1f77b4"]}, "legend": null}
          },
          "layer": [
            {
              "data": {"name": "ebar"},
              "mark": {"type": "rule", "strokeWidth": 1.3, "clip": true},
              "encoding": {"y2": {"field": "e2"}}
            },
            {
              "data": {"name": "rel"},
              "mark": {"type": "line", "strokeWidth": 1.2},
              "encoding": {"order": {"field": "c"}}
            },
            {
              "data": {"name": "rel"},
              "mark": {"type": "point", "filled": true, "size": 12, "opacity": 1}
            },
            {
              "data": {"name": "zero"},
              "mark": {"type": "line", "color": "#ff2020", "strokeDash": [5, 3], "strokeWidth": 1.4},
              "encoding": {"color": {"value": "#ff2020"}}
            }
          ]
        }
      ]
    },
    {
      "spacing": 0,
      "resolve": {"scale": {"color": "independent", "size": "independent"}, "legend": {"color": "independent", "size": "independent"}},
      "vconcat": [
        {
          "width": 400,
          "height": 20,
          "data": {"values": []},
          "mark": {"type": "point"},
          "encoding": {}
        },
        {
          "width": 400,
          "height": 240,
          "title": {"text": "Waveform Visualization", "fontSize": 18, "offset": 4},
          "data": {"name": "wave"},
          "layer": [
            {
              "mark": {"type": "point", "filled": true, "opacity": 1, "strokeWidth": 0},
              "encoding": {
                "x": {"field": "t", "type": "quantitative", "scale": {"domain": [-24.8, 519], "nice": false, "zero": false},
                      "axis": {"values": [0, 100, 200, 300, 400, 500], "title": "Time Step", "labelFontSize": 14, "titleFontSize": 15, "tickSize": 3.5, "labelPadding": 1, "titlePadding": 1, "domainColor": "#aaa", "tickColor": "#aaa", "gridDash": [2, 2], "gridColor": "#dcdcdc"}},
                "y": {"field": "v", "type": "quantitative", "scale": {"domain": [-0.35, 6.62], "nice": false, "zero": false},
                      "axis": {"values": [0, 1, 2, 3, 4, 5, 6], "labelExpr": "datum.value === 0 ? '0.0' : ''", "title": null, "labelFontSize": 14, "labelPadding": 2, "domain": false, "tickSize": 5, "tickColor": "#aaa", "tickOpacity": {"condition": {"test": "datum.value === 0", "value": 1}, "value": 0}, "gridDash": [2, 2], "gridColor": "#dcdcdc"}},
                "color": {"field": "k", "type": "nominal", "scale": {"domain": ["B", "P", "S"], "range": ["#000000", "#ff0000", "#0000ff"]},
                          "legend": {"title": null, "orient": "top-right", "offset": 3, "fillColor": "white", "strokeColor": "#d0d0d0", "cornerRadius": 4, "padding": 8, "labelFontSize": 15, "rowPadding": 7, "labelOffset": 30, "labelExpr": "datum.label == 'B' ? 'Background' : datum.label == 'P' ? 'Primary ionization' : 'Secondary ionization'"}},
                "size": {"field": "k", "type": "nominal", "scale": {"domain": ["B", "P", "S"], "range": [7, 30, 30]},
                         "legend": {"title": null, "orient": "top-right", "offset": 3, "fillColor": "white", "strokeColor": "#d0d0d0", "cornerRadius": 4, "padding": 8, "labelFontSize": 15, "rowPadding": 7, "labelOffset": 30, "labelExpr": "datum.label == 'B' ? 'Background' : datum.label == 'P' ? 'Primary ionization' : 'Secondary ionization'"}}
              }
            },
            {
              "mark": {"type": "point", "opacity": 0},
              "encoding": {
                "x": {"field": "t", "type": "quantitative", "axis": {"orient": "top", "labels": false, "ticks": false, "grid": false, "domain": true, "domainColor": "#999", "title": null}},
                "y": {"field": "v", "type": "quantitative"}
              }
            }
          ],
          "resolve": {"axis": {"x": "independent"}}
        }
      ]
    }
  ]
}
